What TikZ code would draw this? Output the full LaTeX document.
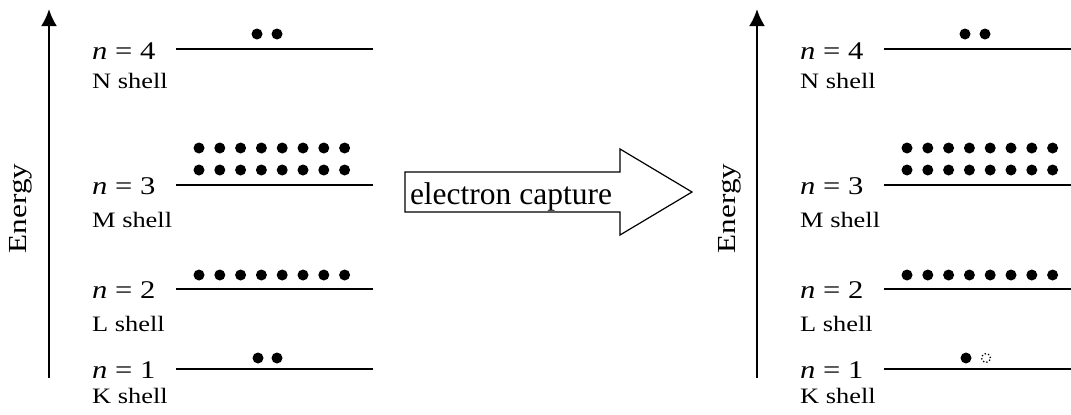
\documentclass[tikz,border=0pt]{standalone}
\usepackage{fontspec}
\setmainfont{Liberation Serif}
\newfontfamily\lblfont[FakeStretch=1.2]{Liberation Serif}
\usetikzlibrary{arrows.meta}
\tikzset{
  level/.style={line width=2pt},
  nlabel/.style={anchor=base west, inner sep=0pt, font=\lblfont\fontsize{25.5}{25.5}\selectfont},
  slabel/.style={anchor=base west, inner sep=0pt, font=\lblfont\fontsize{22}{22}\selectfont},
  elabel/.style={anchor=base, inner sep=0pt, rotate=90, font=\lblfont\fontsize{26}{26}\selectfont},
  axis/.style={line width=2.6pt, -{Latex[length=17pt,width=16pt]}},
  electron/.style={circle, fill=black, inner sep=0pt, minimum size=11pt},
  hole/.style={circle, draw, dash pattern=on 1.3pt off 2.2pt, line width=1.3pt, inner sep=0pt, minimum size=9pt},
  bigarrow/.style={line width=1.2pt, fill=white},
}
\begin{document}
\begin{tikzpicture}[x=1pt,y=-1pt]
\useasboundingbox (0,0) rectangle (1071,415);
\foreach \p/\sx in {L/0, R/708}{
  \begin{scope}[xshift=\sx pt]
    \coordinate (\p axb) at (49,378);
    \coordinate (\p axt) at (49,9);
    \draw[axis] (\p axb) -- (\p axt);
    \node[elabel] (\p energy) at (27,208.5) {Energy};
    % levels
    \coordinate (\p l4a) at (176,49); \coordinate (\p l4b) at (373,49);
    \coordinate (\p l3a) at (176,185); \coordinate (\p l3b) at (373,185);
    \coordinate (\p l2a) at (176,289); \coordinate (\p l2b) at (373,289);
    \coordinate (\p l1a) at (176,369); \coordinate (\p l1b) at (373,369);
    \draw[level] (\p l4a) -- (\p l4b);
    \draw[level] (\p l3a) -- (\p l3b);
    \draw[level] (\p l2a) -- (\p l2b);
    \draw[level] (\p l1a) -- (\p l1b);
    \node[nlabel] (\p n4) at (92,59) {\textit{n} = 4};
    \node[slabel] (\p s4) at (92,88) {N shell};
    \node[nlabel] (\p n3) at (92,194) {\textit{n} = 3};
    \node[slabel] (\p s3) at (92,227) {M shell};
    \node[nlabel] (\p n2) at (92,298) {\textit{n} = 2};
    \node[slabel] (\p s2) at (92,331) {L shell};
    \node[nlabel] (\p n1) at (92,378) {\textit{n} = 1};
    \node[slabel] (\p s1) at (92,403) {K shell};
    % electrons
    \node[electron] (\p e4a) at (257,34) {};
    \node[electron] (\p e4b) at (277,34) {};
    \foreach \i in {0,...,7}{
      \node[electron] (\p e3a\i) at ({199+20.8*\i},148) {};
      \node[electron] (\p e3b\i) at ({199+20.8*\i},170) {};
      \node[electron] (\p e2\i) at ({199+20.8*\i},275) {};
    }
    \node[electron] (\p e1a) at (258,358) {};
  \end{scope}
}
\node[electron] (Le1b) at (277,358) {};
\node[hole] (Rh1) at (986,358) {};
% big arrow
\draw[bigarrow] (405,172) -- (620,172) -- (620,149) -- (692,192) -- (620,235) -- (620,212) -- (405,212) -- cycle;
\node[anchor=base, inner sep=0pt, font=\fontsize{31.5}{31.5}\selectfont] (ec) at (511,204) {electron capture};
\end{tikzpicture}
\end{document}
